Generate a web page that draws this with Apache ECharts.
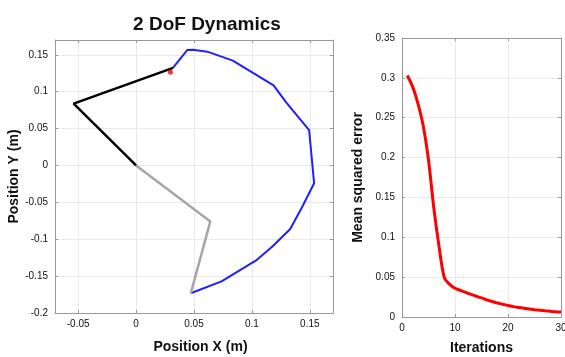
<!DOCTYPE html>
<html>
<head>
<meta charset="utf-8">
<script src="https://cdn.jsdelivr.net/npm/echarts@6/dist/echarts.min.js"></script>
<style>
  html, body { margin: 0; padding: 0; background: #fff; }
  #main { width: 565px; height: 357px; }
</style>
</head>
<body>
<div id="main"></div>
<script>
// arm links (x, y)
var link1 = [[0, 0], [-0.0539, 0.0837], [0.032, 0.1322]];
var link2 = [[0, 0], [0.0641, -0.0759], [0.0472, -0.1733]];
// end effector trajectory
var trajX = [0.032, 0.0443, 0.0491, 0.0615, 0.0835, 0.1187, 0.1294, 0.1494, 0.1537, 0.1436, 0.1331, 0.1179, 0.1036, 0.0738, 0.0472];
var trajY = [0.1326, 0.1565, 0.1569, 0.1542, 0.1420, 0.1084, 0.0858, 0.0477, -0.0241, -0.0557, -0.0861, -0.1096, -0.1288, -0.1571, -0.1733];
var target = [0.0297, 0.1263];

// training error
var iterations = [1, 2, 3, 4, 5, 6, 7, 8, 9, 10, 11, 12, 13, 14, 15, 16, 17, 18, 19, 20, 21, 22, 23, 24, 25, 26, 27, 28, 29, 30];
var mse = [0.303, 0.289, 0.268, 0.240, 0.197, 0.137, 0.088, 0.049, 0.041, 0.036, 0.0335, 0.031, 0.0285, 0.026, 0.024, 0.0215, 0.0195, 0.0175, 0.016, 0.0145, 0.013, 0.012, 0.011, 0.010, 0.0092, 0.0085, 0.0078, 0.0072, 0.0066, 0.0062];

var font = 'Liberation Sans';
var gridCol = '#e9e9e9';
var frameCol = '#999';

var traj = trajX.map(function(x, i) { return [x, trajY[i]]; });
var errData = iterations.map(function(it, i) { return [it, mse[i]]; });

function mainAxis(grid, pos, opt, nameGap, name) {
    var a = {
        type: 'value', gridIndex: grid, position: pos,
        name: name, nameLocation: 'middle', nameGap: nameGap,
        nameTextStyle: { fontFamily: font, fontSize: 14, fontWeight: 'bold', color: '#111' },
        axisLine: { show: true, onZero: false, lineStyle: { color: frameCol, width: 1 } },
        axisTick: { show: true, inside: true, length: 3, lineStyle: { color: frameCol } },
        axisLabel: { fontFamily: font, fontSize: 10, color: '#111', margin: 7 },
        splitLine: { show: true, lineStyle: { color: gridCol, width: 1 } }
    };
    for (var k in opt) a[k] = opt[k];
    return a;
}
function mirrorAxis(grid, pos, opt) {
    var a = {
        type: 'value', gridIndex: grid, position: pos,
        axisLine: { show: true, onZero: false, lineStyle: { color: frameCol, width: 1 } },
        axisTick: { show: true, inside: true, length: 3, lineStyle: { color: frameCol } },
        axisLabel: { show: false },
        splitLine: { show: false }
    };
    for (var k in opt) a[k] = opt[k];
    return a;
}

var xL = { min: -0.07, max: 0.17, splitNumber: 5 };
var yL = { min: -0.2, max: 0.17, splitNumber: 7 };
var xR = { min: 0, max: 30, interval: 10 };
var yR = { min: 0, max: 0.35, interval: 0.05 };

var chart = echarts.init(document.getElementById('main'));
chart.setOption({
    animation: false,
    backgroundColor: '#fff',
    title: {
        text: '2 DoF Dynamics', left: 202, top: 10, textAlign: 'center',
        textStyle: { fontFamily: font, fontSize: 19, fontWeight: 'bold', color: '#111' }
    },
    grid: [
        { left: 55, top: 40, width: 278, height: 273, outerBoundsMode: 'none', containLabel: false },
        { left: 402, top: 38, width: 159, height: 279, outerBoundsMode: 'none', containLabel: false }
    ],
    xAxis: [
        mainAxis(0, 'bottom', Object.assign({ axisLabel: { fontFamily: font, fontSize: 10, color: '#111', margin: 6, showMinLabel: false, showMaxLabel: false },
            nameTextStyle: { fontFamily: font, fontSize: 14, fontWeight: 'bold', color: '#111', padding: [0, 0, 0, 13] } }, xL), 27, 'Position X (m)'),
        mirrorAxis(0, 'top', xL),
        mainAxis(1, 'bottom', Object.assign({ axisLabel: { fontFamily: font, fontSize: 10, color: '#111', margin: 6 } }, xR), 24, 'Iterations'),
        mirrorAxis(1, 'top', xR)
    ],
    yAxis: [
        mainAxis(0, 'left', Object.assign({ axisLabel: { fontFamily: font, fontSize: 10, color: '#111', margin: 7, showMaxLabel: false } }, yL), 30, 'Position Y (m)'),
        mirrorAxis(0, 'right', yL),
        mainAxis(1, 'left', yR, 37, 'Mean squared error'),
        mirrorAxis(1, 'right', yR)
    ],
    series: [
        {
            type: 'line', xAxisIndex: 0, yAxisIndex: 0, data: traj,
            showSymbol: false, lineStyle: { color: '#1f1fff', width: 2 }, z: 2
        },
        {
            type: 'line', xAxisIndex: 0, yAxisIndex: 0, data: link2,
            showSymbol: false, lineStyle: { color: '#a6a6a6', width: 2.5 }, z: 3
        },
        {
            type: 'line', xAxisIndex: 0, yAxisIndex: 0, data: link1,
            showSymbol: false, lineStyle: { color: '#000', width: 2.5 }, z: 4
        },
        {
            type: 'scatter', xAxisIndex: 0, yAxisIndex: 0, data: [target],
            symbolSize: 5, itemStyle: { color: '#ff0000' }, z: 5
        },
        {
            type: 'line', xAxisIndex: 2, yAxisIndex: 2, data: errData,
            showSymbol: false, smooth: 0.3, lineStyle: { color: '#ff0000', width: 3 }
        }
    ]
});
</script>
</body>
</html>
